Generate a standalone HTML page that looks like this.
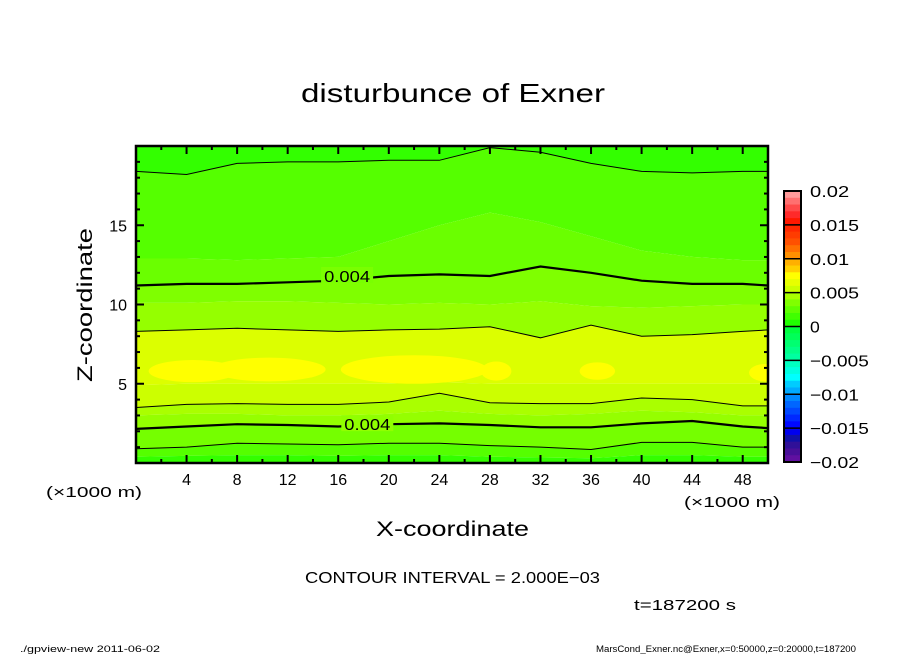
<!DOCTYPE html>
<html><head><meta charset="utf-8"><style>
body{margin:0;background:#fff;width:904px;height:654px;overflow:hidden}
svg text{font-family:"Liberation Sans",sans-serif}
</style></head><body>
<svg id="c" width="904" height="654" viewBox="0 0 904 654"></svg>
<script>
const xs=[0,4,8,12,16,20,24,28,32,36,40,44,48,50];
// contour lines (z in km at xs)
const cTop=[18.4,18.2,18.9,19.0,19.0,19.1,19.1,19.9,19.6,18.9,18.4,18.3,18.4,18.4];
const cUp4=[11.2,11.3,11.3,11.4,11.5,11.8,11.9,11.8,12.4,12.0,11.5,11.3,11.3,11.2];
const cMid=[8.3,8.4,8.5,8.4,8.3,8.4,8.45,8.6,7.9,8.7,8.0,8.1,8.3,8.4];
const cLow=[3.5,3.7,3.75,3.7,3.7,3.85,4.4,3.8,3.75,3.75,4.1,4.0,3.6,3.6];
const cLo4=[2.15,2.3,2.45,2.4,2.3,2.45,2.5,2.4,2.25,2.25,2.5,2.65,2.3,2.2];
const cBot=[0.9,1.0,1.25,1.2,1.15,1.25,1.25,1.1,1.0,0.85,1.3,1.3,1.0,1.0];
// fill-only boundaries
const bLight=[12.9,12.9,12.8,12.9,13.0,14.0,15.0,15.8,15.2,14.3,13.4,13.0,12.8,12.8];
const bMid1=[10.1,10.1,10.2,10.2,10.1,10.0,10.1,10.0,10.2,9.9,9.8,9.9,10.0,10.0];
const bYel=[4.9,5.0,5.0,5.0,5.0,5.0,5.1,5.0,5.0,5.0,5.0,5.0,5.0,5.0];
const bLow1=[3.0,3.1,3.1,3.0,3.0,3.1,3.3,3.1,3.0,3.1,3.3,3.2,3.0,3.0];
const bBot1=[0.4,0.45,0.5,0.5,0.45,0.5,0.5,0.4,0.35,0.3,0.5,0.5,0.4,0.4];
const blobs=[[4.5,5.8,3.5,0.7],[10.5,5.9,4.5,0.75],[22,5.9,5.8,0.9],[28.5,5.8,1.2,0.6],[36.5,5.8,1.4,0.55],[49.8,5.7,1.3,0.55]];
const xTicks=[4,8,12,16,20,24,28,32,36,40,44,48];
const zTicks=[5,10,15];
const cbLabels=["0.02","0.015","0.01","0.005","0","\u22120.005","\u22120.01","\u22120.015","\u22120.02"];
const cbColors=["#ff9a9a","#ff7070","#ff4a4a","#ff2a2a","#ff1800","#ff2800","#ff3c00","#ff5000","#ff7000","#ff9000","#ffb000","#ffd000","#ffff00","#e8ff00","#ccff00","#a8ff00","#80ff00","#60ff00","#40ff00","#20ff00","#00ff40","#00ff58","#00ff70","#00ff88","#00ffa0","#00ffc0","#00ffe0","#00ffff","#00ccff","#00aaff","#0088ff","#0066ff","#0048ff","#0028ff","#0008ff","#0000ee","#1010a8","#301098","#480f98","#6010a0"];

const NS="http://www.w3.org/2000/svg",svg=document.getElementById('c');
const X0=136,X1=768,Y0=146,Y1=463;
const sx=x=>X0+x/50*(X1-X0), sz=z=>Y1-z/20*(Y1-Y0);
function el(t,a,p){const e=document.createElementNS(NS,t);for(const k in a)e.setAttribute(k,a[k]);(p||svg).appendChild(e);return e;}
const line=arr=>xs.map((x,i)=>(i?'L':'M')+sx(x).toFixed(1)+','+sz(arr[i]).toFixed(1)).join('');
function band(up,lo,col,name){
  const upPts=up==null?xs.map(x=>[sx(x),Y0]):xs.map((x,i)=>[sx(x),sz(up[i])]);
  const loPts=lo==null?xs.map(x=>[sx(x),Y1]):xs.map((x,i)=>[sx(x),sz(lo[i])]);
  const pts=upPts.concat(loPts.reverse()).map(p=>p[0].toFixed(1)+','+p[1].toFixed(1)).join(' ');
  const e=el('polygon',{points:pts,fill:col});
  
  
}
const clip=el('clipPath',{id:'pc'});el('rect',{x:X0,y:Y0,width:X1-X0,height:Y1-Y0},clip);
const g=el('g',{'clip-path':'url(#pc)'});
const bandsDef=[[null,cTop,'#33ff00'],[cTop,bLight,'#55ff00'],[bLight,cUp4,'#6aff00'],[cUp4,bMid1,'#7fff00'],[bMid1,cMid,'#95ff00'],[cMid,bYel,'#dcff00'],[bYel,cLow,'#ccff00'],[cLow,bLow1,'#aaff00'],[bLow1,cLo4,'#95ff00'],[cLo4,cBot,'#75ff00'],[cBot,bBot1,'#55ff00'],[bBot1,null,'#33ff00']];
bandsDef.forEach((b,i)=>{band(b[0],b[1],b[2],'fill-band-'+i);});
blobs.forEach((b,i)=>{const e=el('ellipse',{cx:sx(b[0]),cy:sz(b[1]),rx:b[2]/50*(X1-X0),ry:b[3]/20*(Y1-Y0),fill:'#ffff00'});
  
  });
[...svg.querySelectorAll('polygon,ellipse')].forEach(e=>g.appendChild(e));
[[cTop,1,'contour-0.002-top'],[cUp4,2.2,'contour-0.004-upper'],[cMid,1,'contour-0.006-mid'],[cLow,1,'contour-0.006-low'],[cLo4,2.2,'contour-0.004-lower'],[cBot,1,'contour-0.002-bottom']].forEach(c=>{
  const e=el('path',{d:line(c[0]),fill:'none',stroke:'#000','stroke-width':c[1]},g);
  
  });
function lab(x,arr,bg){const i=xs.findIndex(v=>v>=x);const z=arr[i];
  el('rect',{x:sx(x)-26,y:sz(z)-9,width:52,height:16,fill:bg},g);
  const t=el('text',{x:sx(x),y:sz(z)+6,'font-size':16,'text-anchor':'middle',textLength:46,lengthAdjust:'spacingAndGlyphs'},g);t.textContent='0.004';
  
  }
lab(16.7,cUp4,'#7aff00');lab(18.3,cLo4,'#90ff00');
const fr=el('rect',{x:X0,y:Y0,width:X1-X0,height:Y1-Y0,fill:'none',stroke:'#000','stroke-width':2.5});


for(let x=2;x<50;x+=2){const L=(x%4==0)?8:4;
  el('line',{x1:sx(x),x2:sx(x),y1:Y1,y2:Y1-L,stroke:'#000','stroke-width':2});
  el('line',{x1:sx(x),x2:sx(x),y1:Y0,y2:Y0+L,stroke:'#000','stroke-width':2});}
for(let z=1;z<20;z++){const L=(z%5==0)?8:4;
  el('line',{x1:X0,x2:X0+L,y1:sz(z),y2:sz(z),stroke:'#000','stroke-width':2});
  el('line',{x1:X1,x2:X1-L,y1:sz(z),y2:sz(z),stroke:'#000','stroke-width':2});}
xTicks.forEach(v=>{const t=el('text',{x:sx(v),y:485,'font-size':16,'text-anchor':'middle'});t.textContent=v;
  
  });
zTicks.forEach(v=>{const t=el('text',{x:127,y:sz(v)+6,'font-size':16,'text-anchor':'end'});t.textContent=v;
  
  });
const CB0=191,CB1=462,CX=784,CW=17,n=cbColors.length,h=(CB1-CB0)/n;
cbColors.forEach((c,i)=>{const r=el('rect',{x:CX,y:CB0+i*h,width:CW,height:h+0.5,fill:c});
  
  });
for(let k=1;k<8;k++)el('line',{x1:CX,x2:CX+CW,y1:CB0+k*(CB1-CB0)/8,y2:CB0+k*(CB1-CB0)/8,stroke:'#000','stroke-width':1.5});
el('rect',{x:CX,y:CB0,width:CW,height:CB1-CB0,fill:'none',stroke:'#000','stroke-width':2});
cbLabels.forEach((s,i)=>{const t=el('text',{x:810,y:CB0+i*(CB1-CB0)/8+6,'font-size':16,textLength:s.length*9.8,lengthAdjust:'spacingAndGlyphs'});t.textContent=s;
  
  });
</script>
<svg width="904" height="654" style="position:absolute;left:0;top:0;font-family:'Liberation Sans',sans-serif">
<text x="301" y="102" font-size="26" textLength="304" lengthAdjust="spacingAndGlyphs">disturbunce of Exner</text>
<text x="376" y="536" font-size="21" textLength="153" lengthAdjust="spacingAndGlyphs">X-coordinate</text>
<text transform="translate(92,382) rotate(-90)" font-size="21" textLength="154" lengthAdjust="spacingAndGlyphs">Z-coordinate</text>
<text x="46" y="497" font-size="15" textLength="96" lengthAdjust="spacingAndGlyphs">(×1000 m)</text>
<text x="684" y="507" font-size="15" textLength="96" lengthAdjust="spacingAndGlyphs">(×1000 m)</text>
<text x="305" y="583" font-size="16" textLength="295" lengthAdjust="spacingAndGlyphs">CONTOUR INTERVAL = 2.000E−03</text>
<text x="634" y="610" font-size="15" textLength="102" lengthAdjust="spacingAndGlyphs">t=187200 s</text>
<text x="20" y="652" font-size="9" textLength="140" lengthAdjust="spacingAndGlyphs">./gpview-new   2011-06-02</text>
<text x="596" y="652" font-size="9" textLength="260" lengthAdjust="spacingAndGlyphs">MarsCond_Exner.nc@Exner,x=0:50000,z=0:20000,t=187200</text>
</svg>
</body></html>
